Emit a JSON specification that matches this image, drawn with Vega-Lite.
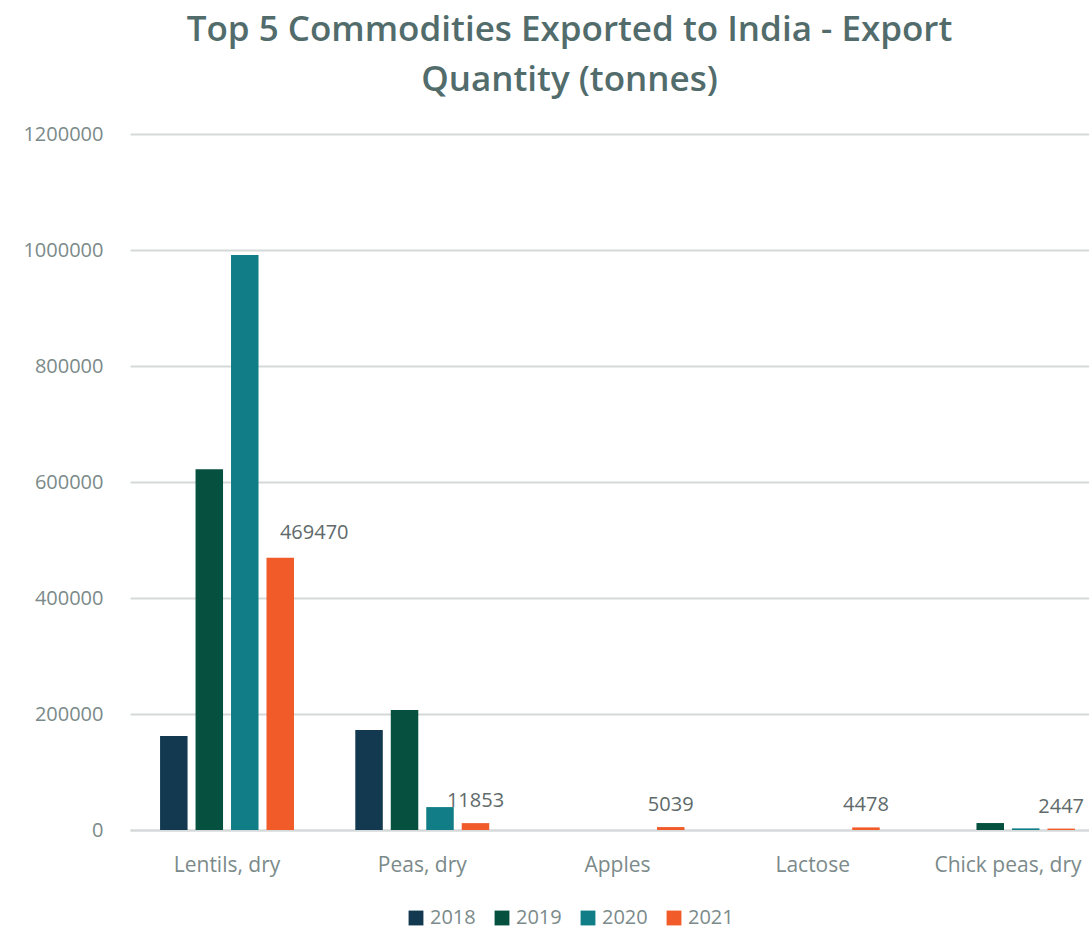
{
  "$schema": "https://vega.github.io/schema/vega-lite/v6.json",
  "autosize": "none",
  "padding": {"left": 130, "top": 134, "right": 0, "bottom": 99},
  "width": 975,
  "height": 696,
  "background": "white",
  "title": {
    "text": ["Top 5 Commodities Exported to India - Export", "Quantity (tonnes)"],
    "font": "Open Sans",
    "fontSize": 35,
    "fontWeight": 600,
    "color": "#526C6C",
    "lineHeight": 50,
    "anchor": "middle",
    "dx": -48,
    "offset": 26
  },
  "data": {
    "values": [
      {"commodity": "Lentils, dry", "year": "2018", "tonnes": 162000},
      {"commodity": "Lentils, dry", "year": "2019", "tonnes": 622000},
      {"commodity": "Lentils, dry", "year": "2020", "tonnes": 991500},
      {"commodity": "Lentils, dry", "year": "2021", "tonnes": 469470},
      {"commodity": "Peas, dry", "year": "2018", "tonnes": 172500},
      {"commodity": "Peas, dry", "year": "2019", "tonnes": 207000},
      {"commodity": "Peas, dry", "year": "2020", "tonnes": 39500},
      {"commodity": "Peas, dry", "year": "2021", "tonnes": 11853},
      {"commodity": "Apples", "year": "2018", "tonnes": 0},
      {"commodity": "Apples", "year": "2019", "tonnes": 0},
      {"commodity": "Apples", "year": "2020", "tonnes": 0},
      {"commodity": "Apples", "year": "2021", "tonnes": 5039},
      {"commodity": "Lactose", "year": "2018", "tonnes": 0},
      {"commodity": "Lactose", "year": "2019", "tonnes": 0},
      {"commodity": "Lactose", "year": "2020", "tonnes": 0},
      {"commodity": "Lactose", "year": "2021", "tonnes": 4478},
      {"commodity": "Chick peas, dry", "year": "2018", "tonnes": 0},
      {"commodity": "Chick peas, dry", "year": "2019", "tonnes": 12000},
      {"commodity": "Chick peas, dry", "year": "2020", "tonnes": 2800},
      {"commodity": "Chick peas, dry", "year": "2021", "tonnes": 2447}
    ]
  },
  "encoding": {
    "x": {
      "field": "commodity",
      "type": "nominal",
      "sort": null,
      "scale": {"paddingInner": 0.314, "paddingOuter": 0.154},
      "axis": {
        "title": null,
        "labelAngle": 0,
        "labelFont": "Open Sans",
        "labelFontSize": 21,
        "labelColor": "#7B8A8A",
        "labelPadding": 24,
        "ticks": false,
        "domainColor": "#D5D9D9",
        "domainWidth": 2
      }
    },
    "xOffset": {
      "field": "year",
      "type": "nominal",
      "scale": {"paddingInner": 0.225, "paddingOuter": 0}
    },
    "y": {
      "field": "tonnes",
      "type": "quantitative",
      "scale": {"domain": [0, 1200000], "nice": false},
      "axis": {
        "title": null,
        "values": [0, 200000, 400000, 600000, 800000, 1000000, 1200000],
        "format": "d",
        "labelFont": "Open Sans",
        "labelFontSize": 20,
        "labelColor": "#7B8A8A",
        "labelPadding": 27,
        "ticks": false,
        "domain": false,
        "gridColor": "#D5D9D9",
        "gridWidth": 2
      }
    }
  },
  "layer": [
    {
      "mark": {"type": "bar"},
      "encoding": {
        "color": {
          "field": "year",
          "type": "nominal",
          "scale": {
            "domain": ["2018", "2019", "2020", "2021"],
            "range": ["#12394F", "#05503F", "#117D87", "#F15A29"]
          },
          "legend": {
            "title": null,
            "orient": "none",
            "direction": "horizontal",
            "legendX": 276,
            "legendY": 774,
            "symbolType": "square",
            "symbolSize": 220,
            "symbolStrokeWidth": 0,
            "labelFont": "Open Sans",
            "labelFontSize": 20,
            "labelColor": "#7B8A8A",
            "columnPadding": 16,
            "labelOffset": 4
          }
        }
      }
    },
    {
      "transform": [{"filter": "datum.year == '2021' && datum.commodity != 'Lentils, dry'"}],
      "mark": {
        "type": "text",
        "baseline": "bottom",
        "dy": -12,
        "font": "Open Sans",
        "fontSize": 20,
        "color": "#606A6A"
      },
      "encoding": {
        "text": {"field": "tonnes", "type": "quantitative", "format": "d"}
      }
    },
    {
      "transform": [{"filter": "datum.year == '2021' && datum.commodity == 'Lentils, dry'"}],
      "mark": {
        "type": "text",
        "baseline": "bottom",
        "dy": -15,
        "dx": 34,
        "font": "Open Sans",
        "fontSize": 20,
        "color": "#606A6A"
      },
      "encoding": {
        "text": {"field": "tonnes", "type": "quantitative", "format": "d"}
      }
    }
  ],
  "config": {"view": {"stroke": null}}
}
